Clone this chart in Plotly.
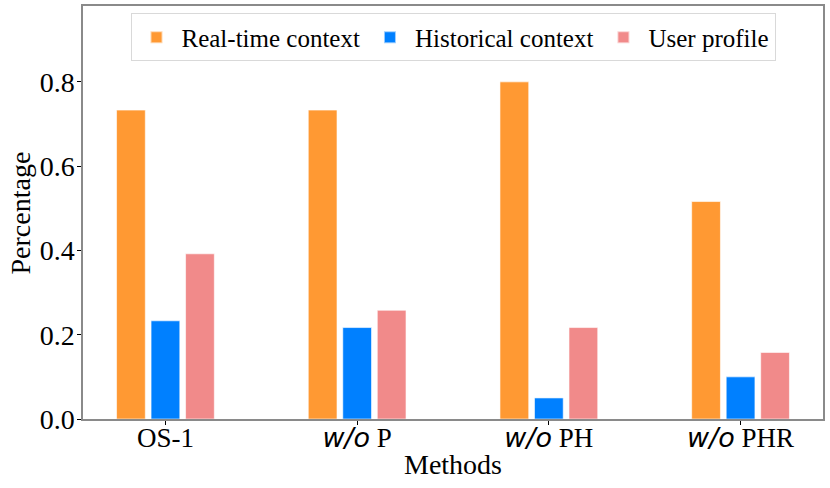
import plotly.graph_objects as go

categories = ["OS-1", "w/o P", "w/o PH", "w/o PHR"]
tick_labels = [
    "OS-1",
    "<span style=\"font-family:'DejaVu Sans'\"><i>w/o</i></span> P",
    "<span style=\"font-family:'DejaVu Sans'\"><i>w/o</i></span> PH",
    "<span style=\"font-family:'DejaVu Sans'\"><i>w/o</i></span> PHR",
]
series_names = ["Real-time context", "Historical context", "User profile"]
realtime = [0.733, 0.733, 0.800, 0.516]
historical = [0.233, 0.217, 0.050, 0.100]
profile = [0.392, 0.258, 0.217, 0.158]
colors = ["#FF9933", "#0080FF", "#F18A8A"]
y_ticks = [0.0, 0.2, 0.4, 0.6, 0.8]

FONT = "Liberation Serif"
AXIS_COLOR = "#8a8a8a"

fig = go.Figure()
for name, vals, col in zip(series_names, [realtime, historical, profile], colors):
    fig.add_trace(go.Bar(
        x=categories, y=vals, name=name,
        marker=dict(color=col, line=dict(color="rgba(255,255,255,0.6)", width=1)),
    ))

fig.update_layout(
    width=830, height=488,
    barmode="group", bargap=0.46, bargroupgap=0.1667,
    plot_bgcolor="white", paper_bgcolor="white",
    margin=dict(l=83, r=7, t=6, b=69, autoexpand=False),
    font=dict(family=FONT, size=27, color="black"),
    showlegend=True,
    legend=dict(
        orientation="h", x=0.5, xanchor="center", y=0.982, yanchor="top",
        font=dict(family=FONT, size=25, color="black"),
        bgcolor="rgba(255,255,255,0.8)", bordercolor="#d9d9d9", borderwidth=1,
        itemsizing="constant", itemwidth=40,
    ),
    xaxis=dict(
        range=[-0.43, 3.43], automargin=False,
        tickmode="array", tickvals=categories, ticktext=tick_labels,
        ticks="outside", ticklen=4, tickcolor="black", tickwidth=1,
        ticklabelstandoff=-10,
        showline=True, linecolor=AXIS_COLOR, linewidth=1.5, mirror=True,
        showgrid=False, zeroline=False,
        tickfont=dict(family=FONT, size=27),
    ),
    yaxis=dict(
        range=[0, 0.98], automargin=False,
        tickmode="array", tickvals=y_ticks, tickformat=".1f",
        ticks="outside", ticklen=4, tickcolor="black", tickwidth=1,
        ticklabelstandoff=-3,
        showline=True, linecolor=AXIS_COLOR, linewidth=1.5, mirror=True,
        showgrid=False, zeroline=False,
        tickfont=dict(family=FONT, size=28),
    ),
    annotations=[
        dict(text="Methods", xref="paper", yref="paper", x=0.5, y=-0.1106,
             xanchor="center", yanchor="middle", showarrow=False,
             font=dict(family=FONT, size=28, color="black")),
        dict(text="Percentage", xref="paper", yref="paper", x=-0.0838, y=0.5,
             xanchor="center", yanchor="middle", showarrow=False, textangle=-90,
             font=dict(family=FONT, size=28, color="black")),
    ],
)

fig.write_html(
    "out.html",
    config={"displayModeBar": False},
    post_script="document.body.style.margin='0';document.body.style.padding='0';",
)
